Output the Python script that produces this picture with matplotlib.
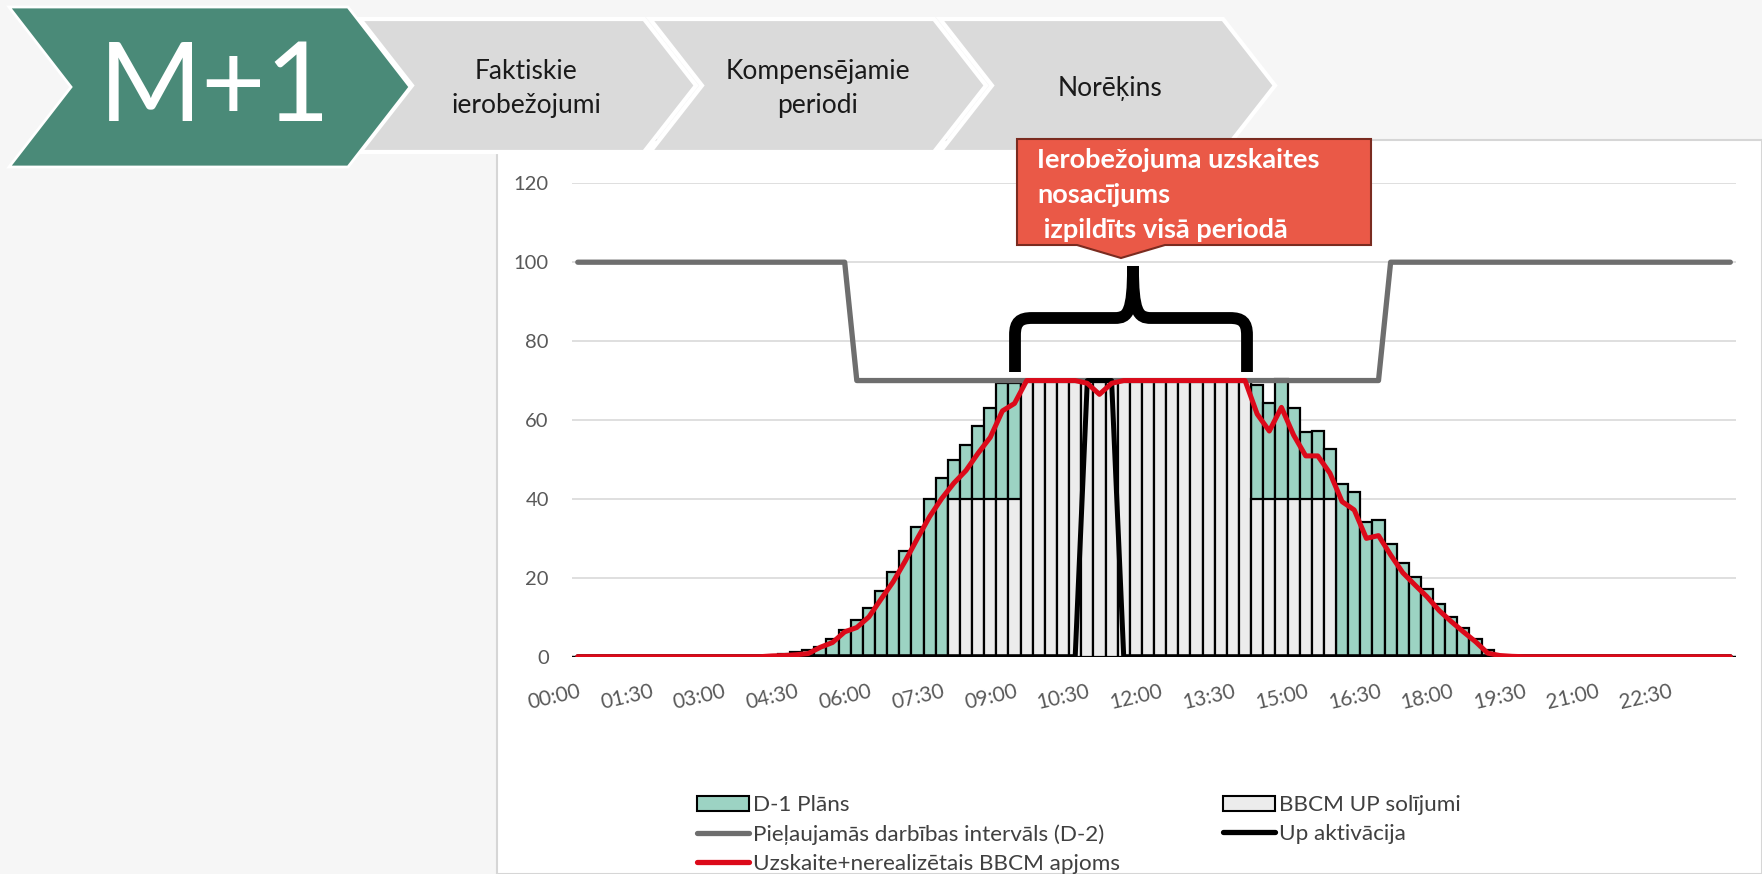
import matplotlib
matplotlib.use("Agg")
import matplotlib.pyplot as plt
from matplotlib.patches import Polygon, Rectangle, Patch, PathPatch
from matplotlib.lines import Line2D
from matplotlib.path import Path

plt.rcParams['font.family'] = ['Lato', 'DejaVu Sans']

W, H = 1762, 874

# 15 minūšu intervāli
times = [f"{h:02d}:{m:02d}" for h in range(24) for m in (0, 15, 30, 45)]
tick_idx = list(range(0, 96, 6))
tick_labels = [times[i] for i in tick_idx]

# D-1 Plāns
plan_d1 = [0] * 17 + [
    0.7, 1.3, 1.7, 2.5, 4.5, 6.8, 9.2, 12.4, 16.7, 21.4,
    26.7, 32.8, 40.0, 45.2, 49.8, 53.7, 58.6, 63.0, 69.3, 69.5,
] + [70] * 19 + [
    68.9, 64.2, 70.5, 63.1, 56.9, 57.3, 52.6, 43.8, 41.7, 34.2,
    34.7, 28.6, 23.8, 20.3, 17.1, 13.4, 10.1, 7.2, 4.4, 1.7,
] + [0] * 20

# BBCM UP solījumi
bbcm_up = [0] * 31 + [40] * 6 + [70] * 19 + [40] * 7 + [0] * 33

# Pieļaujamās darbības intervāls (D-2)
interval_d2 = [100] * 23 + [70] * 44 + [100] * 29

# Up aktivācija
up_activation = [0] * 42 + [70] * 3 + [0] * 51

# Uzskaite + nerealizētais BBCM apjoms
metered = [0] * 16 + [
    0.2, 0.3, 0.5, 0.8, 2.4, 3.6, 6.3, 7.4, 10.1, 14.6,
    19.0, 24.3, 30.0, 35.5, 40.1, 44.0, 47.2, 51.6, 55.6, 62.3, 64.2,
    70, 70, 70, 70, 70, 69.3, 66.5, 69.3,
] + [70] * 11 + [
    61.5, 57.2, 63.2, 56.2, 50.9, 50.9, 46.5, 39.3, 37.2, 30.0,
    30.7, 25.8, 21.3, 18.2, 15.2, 11.7, 8.9, 6.3, 3.8, 0.9, 0.3, 0.1,
] + [0] * 18

x = list(range(len(times)))

C_GREEN = '#9cd3c3'
C_BAR_GRAY = '#ececec'
C_LINE_GRAY = '#6e6e6e'
C_RED = '#dc0a1a'
C_TXT = '#595959'

fig = plt.figure(figsize=(W / 100, H / 100), dpi=100)
fig.patch.set_facecolor('#f6f6f6')

# fons + galvene (pikseļu koordinātes)
bg = fig.add_axes([0, 0, 1, 1], zorder=0)
bg.set_xlim(0, W)
bg.set_ylim(H, 0)
bg.axis('off')
bg.add_patch(Rectangle((497, 140), W - 497, H - 140, facecolor='white',
                       edgecolor='#d6d6d6', lw=1.5))

chev_top, chev_bot = 19, 152
chev_mid = (chev_top + chev_bot) / 2
depth = 52
for x0, x1 in [(360, 644), (650, 934), (940, 1223)]:
    pts = [(x0, chev_top), (x1, chev_top), (x1 + depth, chev_mid), (x1, chev_bot),
           (x0, chev_bot), (x0 + depth, chev_mid)]
    bg.add_patch(Polygon(pts, closed=True, facecolor='#dadada', edgecolor='white', lw=3))

g_top, g_bot = 7, 167
g_mid = (g_top + g_bot) / 2
g_depth = 62
bg.add_patch(Polygon([(9, g_top), (410 - g_depth, g_top), (410, g_mid), (410 - g_depth, g_bot),
                      (9, g_bot), (9 + g_depth, g_mid)],
                     closed=True, facecolor='#4a8a78', edgecolor='white', lw=2))
bg.text(215, 121, 'M+1', color='white', fontsize=80, fontweight='normal',
        ha='center', va='baseline')

hdr_kw = dict(fontsize=19, color='#1a1a1a', ha='center', va='baseline')
bg.text(526, 79, 'Faktiskie', **hdr_kw)
bg.text(526, 113, 'ierobežojumi', **hdr_kw)
bg.text(818, 79, 'Kompensējamie', **hdr_kw)
bg.text(818, 113, 'periodi', **hdr_kw)
bg.text(1110, 96, 'Norēķins', **hdr_kw)

# galvenā diagramma
ax = fig.add_axes([571.7 / W, 1 - 656.7 / H, (1736.4 - 571.7) / W, (656.7 - 183.3) / H], zorder=1)
ax.set_facecolor('white')
ax.bar(x, plan_d1, width=1.0, color=C_GREEN, edgecolor='black', lw=1.6, zorder=2)
ax.bar(x, bbcm_up, width=1.0, color=C_BAR_GRAY, edgecolor='black', lw=1.6, zorder=3)
ax.plot(x, interval_d2, color=C_LINE_GRAY, lw=3.8, zorder=4,
        solid_joinstyle='round', solid_capstyle='round')
ax.plot(x, up_activation, color='black', lw=3.6, zorder=5,
        solid_joinstyle='round', solid_capstyle='round')
ax.plot(x, metered, color=C_RED, lw=3.6, zorder=6,
        solid_joinstyle='round', solid_capstyle='round')

ax.set_xlim(-0.5, 95.5)
ax.set_ylim(0, 120)
ax.set_yticks(range(0, 121, 20))
ax.set_xticks(tick_idx)
ax.set_xticklabels(tick_labels)
ax.grid(axis='y', color='#d9d9d9', lw=1.2, zorder=0)
ax.set_axisbelow(True)
for s in ax.spines.values():
    s.set_visible(False)
ax.tick_params(axis='y', length=0, pad=16.5, labelsize=14.5, labelcolor=C_TXT)
ax.tick_params(axis='x', length=0, pad=18, labelsize=15, labelcolor=C_TXT)
plt.setp(ax.get_xticklabels(), rotation=13, ha='right', va='top', rotation_mode='anchor')

# leģenda
h_plan = Patch(facecolor=C_GREEN, edgecolor='black', lw=1.5)
h_bbcm = Patch(facecolor=C_BAR_GRAY, edgecolor='black', lw=1.5)
h_d2 = Line2D([], [], color=C_LINE_GRAY, lw=3.8, solid_capstyle='round')
h_up = Line2D([], [], color='black', lw=3.8, solid_capstyle='round')
h_red = Line2D([], [], color=C_RED, lw=3.8, solid_capstyle='round')
leg_kw = dict(loc='upper left', frameon=False, fontsize=16.2, handlelength=2.3,
              handleheight=0.65, handletextpad=0.2, labelspacing=0.4,
              borderpad=0, borderaxespad=0, labelcolor='#404040')
fig.legend([h_plan, h_d2, h_red],
           ['D-1 Plāns', 'Pieļaujamās darbības intervāls (D-2)',
            'Uzskaite+nerealizētais BBCM apjoms'],
           bbox_to_anchor=(697 / W, 1 - 795 / H), **leg_kw)
fig.legend([h_bbcm, h_up], ['BBCM UP solījumi', 'Up aktivācija'],
           bbox_to_anchor=(1223 / W, 1 - 795 / H), **leg_kw)

# figūriekava un izsauce
top = fig.add_axes([0, 0, 1, 1], zorder=3)
top.set_xlim(0, W)
top.set_ylim(H, 0)
top.axis('off')
top.patch.set_alpha(0)

brace_l = Path([(1015, 372), (1015, 335), (1015, 322), (1020, 318), (1032, 318),
                (1115, 318), (1128, 318), (1133, 312), (1133, 266)],
               [Path.MOVETO, Path.LINETO, Path.CURVE4, Path.CURVE4, Path.CURVE4,
                Path.LINETO, Path.CURVE4, Path.CURVE4, Path.CURVE4])
brace_r = Path([(1247, 372), (1247, 335), (1247, 322), (1242, 318), (1230, 318),
                (1151, 318), (1138, 318), (1133, 312), (1133, 266)],
               [Path.MOVETO, Path.LINETO, Path.CURVE4, Path.CURVE4, Path.CURVE4,
                Path.LINETO, Path.CURVE4, Path.CURVE4, Path.CURVE4])
for p in (brace_l, brace_r):
    top.add_patch(PathPatch(p, facecolor='none', edgecolor='black', lw=8.5, capstyle='butt'))

callout = [(1017, 139), (1371, 139), (1371, 245), (1165, 245), (1121, 258),
           (1077, 245), (1017, 245)]
top.add_patch(Polygon(callout, closed=True, facecolor='#ea5947', edgecolor='#7a2b20', lw=1.5))
for ty, line in zip([160, 195, 230], ['Ierobežojuma uzskaites', 'nosacījums',
                                       ' izpildīts visā periodā']):
    top.text(1037, ty, line, color='white', fontsize=19.5, fontweight='bold',
             ha='left', va='center')

fig.savefig('out.png', dpi=100, facecolor=fig.get_facecolor())
